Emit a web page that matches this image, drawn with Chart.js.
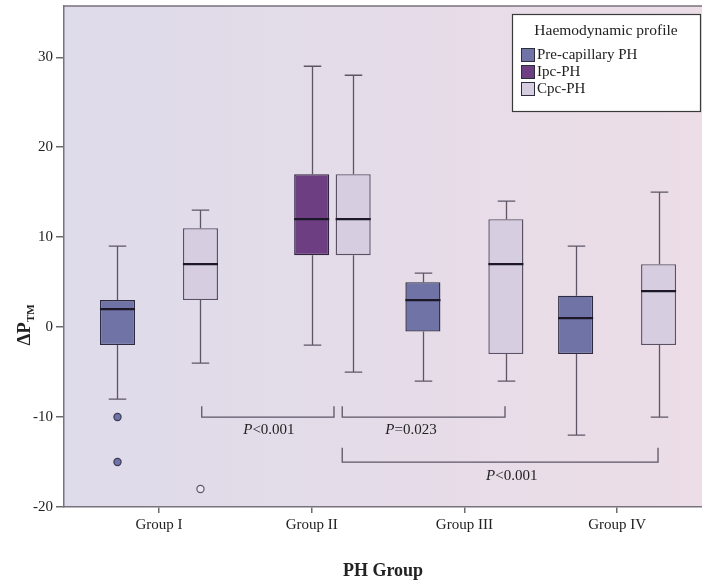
<!DOCTYPE html>
<html>
<head>
<meta charset="utf-8">
<script src="https://cdn.jsdelivr.net/npm/chart.js@4.4.1/dist/chart.umd.min.js"></script>
<style>
  html, body { margin: 0; padding: 0; background: #fff; overflow: hidden; }
  #wrap { width: 702px; height: 587px; }
</style>
</head>
<body>
<div id="wrap"><canvas id="c" width="702" height="587"></canvas></div>
<script>
const groups = ["Group I", "Group II", "Group III", "Group IV"];
const seriesNames = ["Pre-capillary PH", "Ipc-PH", "Cpc-PH"];
const seriesFill = ["#7073a6", "#6d3f82", "#d6cde1"];
const seriesBorder = ["#2c2b42", "#33243d", "#5a5264"];

// [group index, min, q1, median, q3, max]
const preCap = [[0, -8, -2, 2, 3, 9], [2, -6, -0.5, 3, 5, 6], [3, -12, -3, 1, 3.5, 9]];
const ipc = [[1, -2, 8, 12, 17, 29]];
const cpc = [[0, -4, 3, 7, 11, 13], [1, -5, 8, 12, 17, 28], [2, -6, -3, 7, 12, 14], [3, -10, -2, 4, 7, 15]];

// [group index, value]
const preOutliers = [[0, -10], [0, -15]];
const cpcOutliers = [[0, -18]];

const yTicks = [-20, -10, 0, 10, 20, 30];

// significance brackets: [x from, x to, y line, y tick end, p value, sign, label x, label y]
const brackets = [
  [0.28, 1.146, -10, -8.8, "0.001", "<", 0.72, -11.5],
  [1.2, 2.266, -10, -8.8, "0.023", "=", 1.65, -11.5],
  [1.2, 3.268, -15, -13.4, "0.001", "<", 2.31, -16.6]
];

const allSeries = [preCap, ipc, cpc];
const allOutliers = [preOutliers, null, cpcOutliers];

const serif = "'Liberation Serif', 'DejaVu Serif', serif";

const bgPlugin = {
  id: "bg",
  beforeDraw(chart) {
    const { ctx, chartArea: a } = chart;
    ctx.save();
    ctx.fillStyle = "#fff";
    ctx.fillRect(0, 0, chart.width, chart.height);
    const g = ctx.createLinearGradient(a.left, 0, a.right, 0);
    g.addColorStop(0, "#dedbea");
    g.addColorStop(1, "#ecdde7");
    ctx.fillStyle = g;
    ctx.fillRect(a.left, a.top, a.right - a.left, a.bottom - a.top);
    ctx.restore();
  }
};

const boxPlugin = {
  id: "boxes",
  beforeDatasetsDraw(chart) {
    // whiskers behind the boxes
    const { ctx, scales: { y } } = chart;
    ctx.save();
    ctx.strokeStyle = "#5d5566";
    ctx.lineWidth = 1.3;
    allSeries.forEach((rows, di) => {
      const meta = chart.getDatasetMeta(di);
      rows.forEach((r, j) => {
        const bar = meta.data[j];
        const cx = Math.round(bar.x) + 0.5;
        const cap = bar.width / 4;
        ctx.beginPath();
        ctx.moveTo(cx, y.getPixelForValue(r[4]));
        ctx.lineTo(cx, y.getPixelForValue(r[5]));
        ctx.moveTo(cx, y.getPixelForValue(r[2]));
        ctx.lineTo(cx, y.getPixelForValue(r[1]));
        ctx.moveTo(cx - cap, y.getPixelForValue(r[5]));
        ctx.lineTo(cx + cap, y.getPixelForValue(r[5]));
        ctx.moveTo(cx - cap, y.getPixelForValue(r[1]));
        ctx.lineTo(cx + cap, y.getPixelForValue(r[1]));
        ctx.stroke();
      });
    });
    ctx.restore();
  },
  afterDatasetsDraw(chart) {
    const { ctx, scales: { x, y } } = chart;
    ctx.save();
    // medians
    ctx.strokeStyle = "#1c1828";
    ctx.lineWidth = 2.2;
    allSeries.forEach((rows, di) => {
      const meta = chart.getDatasetMeta(di);
      rows.forEach((r, j) => {
        const bar = meta.data[j];
        const my = y.getPixelForValue(r[3]);
        ctx.beginPath();
        ctx.moveTo(bar.x - bar.width / 2, my);
        ctx.lineTo(bar.x + bar.width / 2, my);
        ctx.stroke();
      });
    });
    // outliers
    allOutliers.forEach((pts, di) => {
      if (!pts) return;
      const meta = chart.getDatasetMeta(di);
      pts.forEach(p => {
        const j = allSeries[di].findIndex(r => r[0] === p[0]);
        const bar = meta.data[j];
        ctx.beginPath();
        ctx.arc(bar.x, y.getPixelForValue(p[1]), 3.6, 0, Math.PI * 2);
        ctx.fillStyle = di === 0 ? seriesFill[0] : "#ebe6ef";
        ctx.strokeStyle = di === 0 ? "#3c3b55" : "#5d5566";
        ctx.lineWidth = 1.2;
        ctx.fill();
        ctx.stroke();
      });
    });
    // brackets
    ctx.strokeStyle = "#5d5566";
    ctx.lineWidth = 1.3;
    ctx.fillStyle = "#222";
    ctx.textBaseline = "middle";
    brackets.forEach(b => {
      const x0 = x.getPixelForValue(b[0]), x1 = x.getPixelForValue(b[1]);
      const yl = y.getPixelForValue(b[2]), yt = y.getPixelForValue(b[3]);
      ctx.beginPath();
      ctx.moveTo(x0, yt);
      ctx.lineTo(x0, yl);
      ctx.lineTo(x1, yl);
      ctx.lineTo(x1, yt);
      ctx.stroke();
      const lx = x.getPixelForValue(b[6]), ly = y.getPixelForValue(b[7]);
      ctx.font = "italic 15px " + serif;
      const pW = ctx.measureText("P").width;
      ctx.font = "15px " + serif;
      const rest = b[5] + b[4];
      const rW = ctx.measureText(rest).width;
      const start = lx - (pW + rW) / 2;
      ctx.textAlign = "left";
      ctx.font = "italic 15px " + serif;
      ctx.fillText("P", start, ly);
      ctx.font = "15px " + serif;
      ctx.fillText(rest, start + pW, ly);
    });
    ctx.restore();
  },
  afterDraw(chart) {
    const { ctx, chartArea: a } = chart;
    ctx.save();
    // top frame line
    ctx.strokeStyle = "#77727c";
    ctx.lineWidth = 1.5;
    ctx.beginPath();
    ctx.moveTo(a.left, a.top);
    ctx.lineTo(a.right, a.top);
    ctx.stroke();

    // legend box
    const lx = 512, ly = 14, lw = 188, lh = 97;
    ctx.fillStyle = "#fff";
    ctx.fillRect(lx, ly, lw, lh);
    ctx.strokeStyle = "#3a3a3a";
    ctx.lineWidth = 1.2;
    ctx.strokeRect(lx + 0.5, ly + 0.5, lw, lh);
    ctx.fillStyle = "#222";
    ctx.textBaseline = "middle";
    ctx.textAlign = "center";
    ctx.font = "15.5px " + serif;
    ctx.fillText("Haemodynamic profile", lx + lw / 2, ly + 17);
    ctx.textAlign = "left";
    seriesNames.forEach((name, i) => {
      const sy = ly + 34 + i * 17;
      ctx.fillStyle = seriesFill[i];
      ctx.fillRect(lx + 9, sy, 13, 13);
      ctx.strokeStyle = "#2e2e3a";
      ctx.lineWidth = 1;
      ctx.strokeRect(lx + 9.5, sy + 0.5, 13, 13);
      ctx.fillStyle = "#222";
      ctx.font = "15px " + serif;
      ctx.fillText(name, lx + 25, sy + 7);
    });

    // y axis title: delta P with subscript TM
    ctx.save();
    ctx.translate(24, 325);
    ctx.rotate(-Math.PI / 2);
    ctx.fillStyle = "#222";
    ctx.textAlign = "left";
    ctx.textBaseline = "alphabetic";
    ctx.font = "bold 19px " + serif;
    const main = "\u0394P";
    const mW = ctx.measureText(main).width;
    ctx.font = "bold 11px " + serif;
    const sW = ctx.measureText("TM").width;
    const sx = -(mW + sW) / 2;
    ctx.font = "bold 19px " + serif;
    ctx.fillText(main, sx, 6);
    ctx.font = "bold 11px " + serif;
    ctx.fillText("TM", sx + mW, 10);
    ctx.restore();
    ctx.restore();
  }
};

const makeData = rows => rows.map(r => ({ x: r[0], y: [r[2], r[4]] }));

new Chart(document.getElementById("c"), {
  type: "bar",
  data: {
    datasets: allSeries.map((rows, i) => ({
      label: seriesNames[i],
      data: makeData(rows),
      backgroundColor: seriesFill[i],
      borderColor: seriesBorder[i],
      borderWidth: 1.4,
      borderSkipped: false,
      categoryPercentage: 0.815,
      barPercentage: 0.845
    }))
  },
  options: {
    responsive: false,
    animation: false,
    events: [],
    layout: { padding: 0 },
    plugins: { legend: { display: false }, tooltip: { enabled: false } },
    scales: {
      x: {
        type: "linear",
        min: -0.622,
        max: 3.556,
        offset: false,
        afterBuildTicks: s => { s.ticks = groups.map((g, i) => ({ value: i })); },
        afterFit: s => { s.height = 80; s.paddingLeft = 0; s.paddingRight = 0; },
        ticks: {
          autoSkip: false,
          maxRotation: 0,
          padding: 3,
          color: "#222",
          font: { family: serif, size: 15 },
          callback: v => groups[v]
        },
        grid: { offset: false, drawOnChartArea: false, drawTicks: true, tickLength: 6, color: "#6e6a72", lineWidth: 1.5 },
        border: { display: true, color: "#77727c", width: 1.5 },
        title: {
          display: true,
          text: "PH Group",
          color: "#222",
          font: { family: serif, size: 18, weight: "bold" },
          padding: { top: 0, bottom: 5 }
        }
      },
      y: {
        min: -20,
        max: 35.7,
        afterBuildTicks: s => { s.ticks = yTicks.map(v => ({ value: v })); },
        afterFit: s => { s.width = 64; s.paddingTop = 6; s.paddingBottom = 0; },
        ticks: {
          padding: 3,
          color: "#222",
          font: { family: serif, size: 15 },
          callback: v => String(v)
        },
        grid: { drawOnChartArea: false, drawTicks: true, tickLength: 8, color: "#6e6a72", lineWidth: 1.5 },
        border: { display: true, color: "#77727c", width: 1.5 }
      }
    }
  },
  plugins: [bgPlugin, boxPlugin]
});
</script>
</body>
</html>
